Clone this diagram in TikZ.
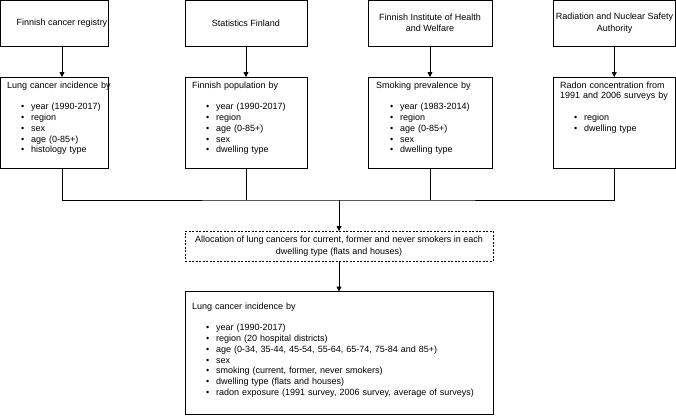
\documentclass[tikz,border=0pt]{standalone}
\usepackage{fontspec}
\setmainfont{Liberation Sans}
\usetikzlibrary{arrows.meta}
\newcommand{\itm}[1]{\hspace*{14pt}\makebox[10pt][l]{•}#1}
\begin{document}
\begin{tikzpicture}[x=1pt,y=-1pt,
  box/.style={draw, line width=0.8pt, inner sep=0pt, outer sep=0pt},
  dbox/.style={box, dash pattern=on 2pt off 1.5pt},
  ttl/.style={inner sep=0pt, align=center, font=\fontsize{9}{11.5}\selectfont},
  lst/.style={inner sep=0pt, anchor=base west, text width=300pt, align=left, font=\fontsize{9}{10.8}\selectfont},
  conn/.style={line width=0.8pt},
  arr/.style={conn, -{Triangle[width=5pt,length=5pt]}}]
\useasboundingbox (0,0) rectangle (676,415);
\fill[white] (0,0) rectangle (676,415);
% top row
\node[box, minimum width=107.5pt, minimum height=45.5pt] (a1) at (54.25,23.25) {};
\node[box, minimum width=122pt, minimum height=45.5pt] (a2) at (246,23.25) {};
\node[box, minimum width=124pt, minimum height=45.5pt] (a3) at (430,23.25) {};
\node[box, minimum width=122.5pt, minimum height=45.5pt] (a4) at (614.25,23.25) {};
\node[ttl] (t1) at (62,23) {Finnish cancer registry};
\node[ttl] (t2) at (246,23) {Statistics Finland};
\node[ttl] (t3) at (430,23) {Finnish Institute of Health\\and Welfare};
\node[ttl] (t4) at (614.5,23) {Radiation and Nuclear Safety\\Authority};
% second row
\node[box, minimum width=107.5pt, minimum height=91pt] (b1) at (54.25,122.5) {};
\node[box, minimum width=122pt, minimum height=91pt] (b2) at (246,122.5) {};
\node[box, minimum width=124pt, minimum height=91pt] (b3) at (430,122.5) {};
\node[box, minimum width=122.5pt, minimum height=91pt] (b4) at (614.25,122.5) {};
\node[lst] (l1) at (7,88) {Lung cancer incidence by\\[10.8pt]
  \itm{year (1990-2017)}\\ \itm{region}\\ \itm{sex}\\ \itm{age (0-85+)}\\ \itm{histology type}};
\node[lst] (l2) at (192,88) {Finnish population by\\[10.8pt]
  \itm{year (1990-2017)}\\ \itm{region}\\ \itm{age (0-85+)}\\ \itm{sex}\\ \itm{dwelling type}};
\node[lst] (l3) at (376,88) {Smoking prevalence by\\[10.8pt]
  \itm{year (1983-2014)}\\ \itm{region}\\ \itm{age (0-85+)}\\ \itm{sex}\\ \itm{dwelling type}};
\node[lst] (l4) at (560,88) {Radon concentration from\\1991 and 2006 surveys by\\[10.8pt]
  \itm{region}\\ \itm{dwelling type}};
% middle
\node[dbox, minimum width=308pt, minimum height=30pt] (c) at (339,246) {};
\node[ttl] (tc) at (339,246) {Allocation of lung cancers for current, former and never smokers in each\\dwelling type (flats and houses)};
% bottom
\node[box, minimum width=308pt, minimum height=123pt] (d) at (339,353) {};
\node[lst] (ld) at (192,309) {Lung cancer incidence by\\[10.8pt]
  \itm{year (1990-2017)}\\ \itm{region (20 hospital districts)}\\
  \itm{age (0-34, 35-44, 45-54, 55-64, 65-74, 75-84 and 85+)}\\ \itm{sex}\\
  \itm{smoking (current, former, never smokers)}\\ \itm{dwelling type (flats and houses)}\\
  \itm{radon exposure (1991 survey, 2006 survey, average of surveys)}};
% connectors
\draw[arr] ([xshift=7.75pt]a1.south) -- ([xshift=7.75pt]b1.north);
\draw[arr] (a2.south) -- (b2.north);
\draw[arr] (a3.south) -- (b3.north);
\draw[arr] (a4.south) -- (b4.north);
\coordinate (j) at (339,200);
\draw[conn] ([xshift=7.75pt]b1.south) |- (j) -| (b4.south);
\draw[conn] (b2.south) -- (b2.south |- j);
\draw[conn] (b3.south) -- (b3.south |- j);
\draw[arr] (j) -- (c.north);
\draw[arr] (c.south) -- (d.north);
\end{tikzpicture}
\end{document}
